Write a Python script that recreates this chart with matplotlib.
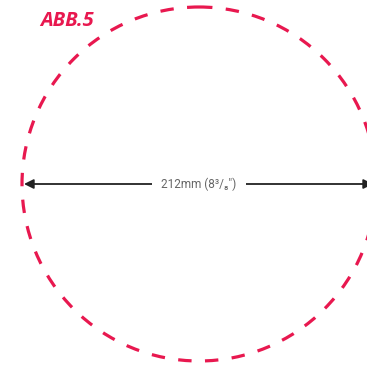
import matplotlib.pyplot as plt
from matplotlib.patches import Circle

# chart content
title = "ABB.5"
diameter_mm = 212
diameter_in = "8\u00b3/\u2088\""
label = f"{diameter_mm}mm ({diameter_in})"

red = "#e8184f"

fig = plt.figure(figsize=(3.67, 3.67), dpi=100)
ax = fig.add_axes([0, 0, 1, 1])
ax.set_xlim(0, 367)
ax.set_ylim(367, 0)
ax.axis("off")

# dashed circle (pixel coords)
cx, cy, r = 199, 184, 177
circle = Circle((cx, cy), r, fill=False, edgecolor=red, linewidth=2.3,
                linestyle=(0, (4.2, 4.2)))
ax.add_patch(circle)

# dimension arrow, both ends
for end in (24, 373):
    ax.annotate("", xy=(end, cy), xytext=(cx, cy), annotation_clip=False,
                arrowprops=dict(arrowstyle="-|>", color="#222222", lw=1.3,
                                mutation_scale=14, shrinkA=0, shrinkB=0))
ax.text(cx, cy, label, ha="center", va="center", fontsize=8.5,
        color="#666666", family="Roboto",
        bbox=dict(facecolor="white", edgecolor="none", pad=7))

ax.text(40, 21, title, ha="left", va="center", fontsize=14.5,
        fontweight="bold", fontstyle="italic", color=red, family="Open Sans")

fig.savefig("out.png", dpi=100)
